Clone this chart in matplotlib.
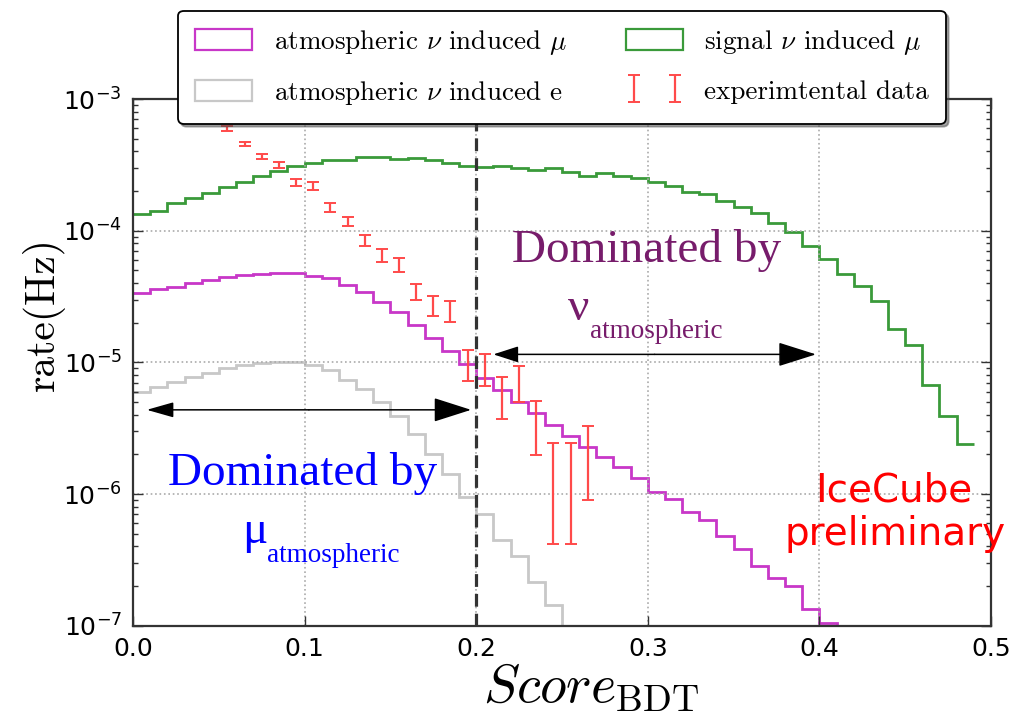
import numpy as np
import matplotlib
matplotlib.use("Agg")
import matplotlib.pyplot as plt
import matplotlib.patches as mpatches
from matplotlib.ticker import FormatStrFormatter, LogLocator

plt.rcParams['mathtext.fontset'] = 'dejavusans'
plt.rcParams['axes.formatter.use_mathtext'] = True

# ---- data -----------------------------------------------------------
bin_edges_start = 0.0
bin_width = 0.01

signal_mu = [1.33e-4, 1.41e-4, 1.61e-4, 1.76e-4, 1.95e-4, 2.16e-4, 2.33e-4, 2.62e-4,
             2.84e-4, 3.10e-4, 3.28e-4, 3.42e-4, 3.42e-4, 3.61e-4, 3.61e-4, 3.50e-4,
             3.55e-4, 3.42e-4, 3.25e-4, 3.12e-4, 3.06e-4, 3.10e-4, 2.98e-4, 2.89e-4,
             2.98e-4, 2.81e-4, 2.62e-4, 2.73e-4, 2.62e-4, 2.53e-4, 2.33e-4, 2.20e-4,
             1.98e-4, 1.91e-4, 1.68e-4, 1.51e-4, 1.36e-4, 1.15e-4, 9.7e-5, 7.6e-5,
             6.1e-5, 4.7e-5, 3.8e-5, 2.9e-5, 1.8e-5, 1.36e-5, 6.7e-6, 3.9e-6, 2.4e-6]

atm_nu_mu = [3.38e-5, 3.59e-5, 3.76e-5, 3.98e-5, 4.20e-5, 4.43e-5, 4.58e-5, 4.69e-5,
             4.78e-5, 4.78e-5, 4.53e-5, 4.38e-5, 3.87e-5, 3.44e-5, 2.89e-5, 2.40e-5,
             1.92e-5, 1.54e-5, 1.22e-5, 9.7e-6, 7.66e-6, 6.17e-6, 4.98e-6, 4.10e-6,
             3.35e-6, 2.76e-6, 2.29e-6, 1.90e-6, 1.60e-6, 1.32e-6, 1.04e-6, 9.1e-7,
             7.3e-7, 6.4e-7, 4.8e-7, 3.8e-7, 2.84e-7, 2.32e-7, 2.02e-7, 1.33e-7,
             1.04e-7, 5e-8]

atm_nu_e = [6.0e-6, 6.5e-6, 7.1e-6, 7.7e-6, 8.3e-6, 9.0e-6, 9.5e-6, 9.9e-6,
            1.01e-5, 1.0e-5, 9.5e-6, 8.7e-6, 7.4e-6, 6.25e-6, 5.0e-6, 3.9e-6,
            2.88e-6, 2.03e-6, 1.42e-6, 9.5e-7, 7.0e-7, 4.5e-7, 3.4e-7, 2.16e-7,
            1.44e-7, 5e-8]

data_x = [0.055, 0.065, 0.075, 0.085, 0.095, 0.105, 0.115, 0.125, 0.135, 0.145,
          0.155, 0.165, 0.175, 0.185, 0.195, 0.205, 0.215, 0.225, 0.235, 0.245,
          0.255, 0.265]
data_lo = [5.71e-4, 4.42e-4, 3.48e-4, 2.98e-4, 2.20e-4, 2.04e-4, 1.38e-4, 1.09e-4,
           7.6e-5, 5.75e-5, 4.89e-5, 2.98e-5, 2.26e-5, 2.04e-5, 7.26e-6, 6.62e-6,
           3.70e-6, 5.04e-6, 1.98e-6, 4.16e-7, 4.16e-7, 9.0e-7]
data_hi = [6.26e-4, 4.74e-4, 3.80e-4, 3.34e-4, 2.47e-4, 2.33e-4, 1.61e-4, 1.28e-4,
           9.3e-5, 7.26e-5, 6.17e-5, 3.92e-5, 3.19e-5, 2.92e-5, 1.24e-5, 1.16e-5,
           7.78e-6, 9.44e-6, 5.12e-6, 2.45e-6, 2.45e-6, 3.29e-6]

labels = [r'atmospheric $\nu$ induced $\mu$', r'atmospheric $\nu$ induced e',
          r'signal $\nu$ induced $\mu$', 'experimtental data']
xticks = [0.0, 0.1, 0.2, 0.3, 0.4, 0.5]

# ---- figure ---------------------------------------------------------
fig = plt.figure(figsize=(10.17, 7.16), dpi=100)
ax = fig.add_axes([0.1308, 0.1261, 0.8436, 0.7356])
ax.set_xscale('linear')
ax.set_yscale('log')


def edges_for(vals):
    return bin_edges_start + bin_width * np.arange(len(vals) + 1)


c_green = '#3a9a3a'
c_mag = '#c837c8'
c_gray = '#c8c8c8'
ax.stairs(atm_nu_e, edges_for(atm_nu_e), baseline=None, color=c_gray, lw=2)
ax.stairs(atm_nu_mu, edges_for(atm_nu_mu), baseline=None, color=c_mag, lw=2)
ax.stairs(signal_mu, edges_for(signal_mu), baseline=None, color=c_green, lw=2)

lo = np.array(data_lo)
hi = np.array(data_hi)
cen = (lo + hi) / 2
err = (hi - lo) / 2
eb = ax.errorbar(data_x, cen, yerr=err, fmt='none', ecolor='#ff4a4a', elinewidth=1.6,
                 capsize=4, capthick=1.4)

ax.axvline(0.2, color='#333333', ls='--', lw=2.3, dashes=(4, 2.2))

ax.set_xlim(0, 0.5)
ax.set_ylim(1e-7, 1e-3)
ax.set_xticks(xticks)
ax.xaxis.set_major_formatter(FormatStrFormatter('%.1f'))
ax.yaxis.set_major_locator(LogLocator(base=10, numticks=10))
ax.yaxis.set_minor_locator(LogLocator(base=10, subs=np.arange(2, 10), numticks=10))
ax.grid(True, which='major', ls=':', color='#aaaaaa', lw=1.2)
ax.tick_params(which='both', direction='in', top=True, right=True, labelsize=18,
               color='#333333')
ax.tick_params(which='major', length=7, width=1, pad=8)
ax.tick_params(which='minor', length=3.5, width=1)
for s in ax.spines.values():
    s.set_color('#333333')
    s.set_linewidth(1.6)

xl = ax.set_xlabel(r'$Score_{\rm BDT}$', fontsize=39, labelpad=0)
xl.set_math_fontfamily('cm')
xl.set_va('baseline')
ax.xaxis.set_label_coords(0.534, -0.146)
yl = ax.set_ylabel('rate(Hz)', family='cmr10', fontsize=30)
ax.yaxis.set_label_coords(-0.08, 0.592)

# arrows
def arrow(x0, x1, y, lhl, lhw, rhl, rhw):
    xm = (x0 + x1) / 2
    ax.annotate('', xy=(x1, y), xytext=(xm, y),
                arrowprops=dict(arrowstyle=f'-|>,head_length={rhl},head_width={rhw}',
                                color='k', lw=1.1, shrinkA=0, shrinkB=0,
                                mutation_scale=10))
    ax.annotate('', xy=(x0, y), xytext=(xm, y),
                arrowprops=dict(arrowstyle=f'-|>,head_length={lhl},head_width={lhw}',
                                color='k', lw=1.1, shrinkA=0, shrinkB=0,
                                mutation_scale=10))

arrow(0.008, 0.197, 4.36e-6, 1.66, 0.47, 2.38, 0.76)
arrow(0.210, 0.398, 1.15e-5, 1.55, 0.5, 2.4, 0.76)

# text annotations
blue = '#0000ff'
purple = '#771c6b'
T = ax.transAxes
ax.text(0.0408, 0.2671, 'Dominated by', color=blue, family='Liberation Serif',
        fontsize=34, transform=T, va='baseline', ha='left')
ax.text(0.1267, 0.157, 'μ', color=blue, family='Liberation Serif',
        fontsize=34, transform=T, va='baseline', ha='left')
ax.text(0.1558, 0.1215, 'atmospheric', color=blue, family='Liberation Serif',
        fontsize=19.5, transform=T, va='baseline', ha='left')
ax.text(0.4414, 0.6911, 'Dominated by', color=purple, family='Liberation Serif',
        fontsize=34, transform=T, va='baseline', ha='left')
ax.text(0.507, 0.5804, 'ν', color=purple, family='Liberation Serif',
        fontsize=34, transform=T, va='baseline', ha='left')
ax.text(0.5326, 0.5457, 'atmospheric', color=purple, family='Liberation Serif',
        fontsize=19.5, transform=T, va='baseline', ha='left')
ax.text(0.887, 0.2354, 'IceCube', color='red', family='DejaVu Sans',
        fontsize=28, transform=T, va='baseline', ha='center')
ax.text(0.888, 0.1532, 'preliminary', color='red', family='DejaVu Sans',
        fontsize=28, transform=T, va='baseline', ha='center')

# legend
handles = [mpatches.Patch(facecolor='none', edgecolor=c_mag, lw=1.6),
           mpatches.Patch(facecolor='none', edgecolor=c_gray, lw=1.6),
           mpatches.Patch(facecolor='none', edgecolor=c_green, lw=1.6),
           eb]
leg = ax.legend(handles, labels, ncol=2, loc='upper center',
                bbox_to_anchor=(0.5, 1.167), borderaxespad=0,
                prop={'family': 'cmr10', 'size': 19.5}, numpoints=2,
                fancybox=True, shadow=True, handlelength=2.1, handleheight=0.8,
                handletextpad=0.8, columnspacing=2.2, labelspacing=0.82,
                borderpad=0.62, framealpha=1)
leg.get_frame().set_edgecolor('black')
leg.get_frame().set_linewidth(1.3)
for t in leg.get_texts():
    t.set_math_fontfamily('cm')

fig.savefig('out.png', dpi=100)
